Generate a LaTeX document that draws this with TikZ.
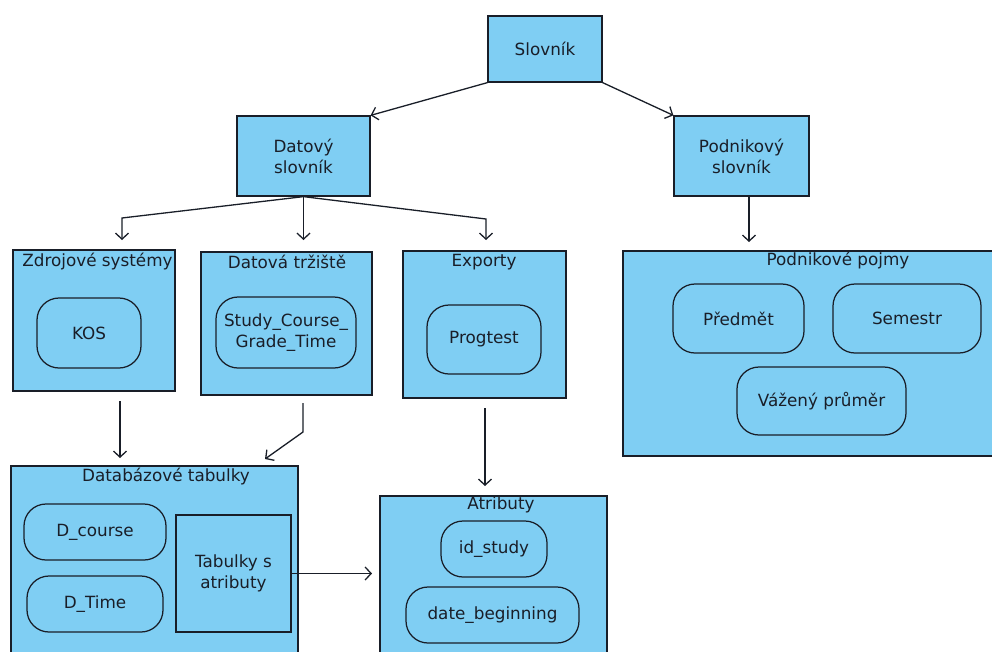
\documentclass[tikz,border=0pt]{standalone}
\usepackage{fontspec}
\setmainfont{DejaVu Sans}
\usetikzlibrary{arrows.meta,calc}
\definecolor{boxfill}{RGB}{127,206,243}
\definecolor{ink}{RGB}{25,30,40}
\begin{document}
\begin{tikzpicture}[x=1pt,y=-1pt,
  font=\fontsize{16.8}{21}\selectfont,
  wh/.style 2 args={minimum width=#1pt, minimum height=#2pt},
  box/.style={draw=ink, fill=boxfill, line width=1.25pt, inner sep=0pt, align=center, text=ink},
  rbox/.style={box, rounded corners=22pt},
  ttl/.style={text=ink, inner sep=0pt, anchor=center},
  arr/.style={draw=ink, line width=1.3pt, -{Straight Barb[length=6pt,width=13pt]}}]
\useasboundingbox (0,0) rectangle (992,651);
\clip (0,0) rectangle (992,651);

% top level
\node[box, wh={114}{66}] (slov) at (545,49) {Slovník};
\node[box, wh={133}{80}] (dat) at (303.5,156) {Datový\\slovník};
\node[box, wh={135}{80}] (pod) at (741.5,156) {Podnikový\\slovník};

% second level containers
\node[box, wh={162}{141}] (zdroj) at (94,320.5) {};
\node[ttl] (zdrojt) at (97.5,262) {Zdrojové systémy};
\node[rbox, wh={104}{70}] (kos) at (89,333) {KOS};

\node[box, wh={171}{143}] (dtr) at (286.5,323.5) {};
\node[ttl] (dtrt) at (287,262) {Datová tržiště};
\node[rbox, wh={140}{71}] (study) at (286,332.5) {Study\_Course\_\\Grade\_Time};

\node[box, wh={163}{147}] (exp) at (484.5,324.5) {};
\node[ttl] (expt) at (484,262) {Exporty};
\node[rbox, wh={114}{69}] (prog) at (484,339.5) {Progtest};

\node[box, wh={430}{205}] (pojmy) at (838,353.5) {};
\node[ttl] (pojmyt) at (838,261) {Podnikové pojmy};
\node[rbox, wh={131}{69}] (pred) at (738.5,318.5) {Předmět};
\node[rbox, wh={148}{69}] (sem) at (907,318.5) {Semestr};
\node[rbox, wh={169}{68}] (vaz) at (821.5,401) {Vážený průměr};

% third level containers
\node[box, wh={287}{234}] (dbt) at (154.5,583) {};
\node[ttl] (dbtt) at (166,477) {Databázové tabulky};
\node[rbox, wh={142}{56}] (dcourse) at (95,532) {D\_course};
\node[rbox, wh={136}{56}] (dtime) at (95,604) {D\_Time};
\node[box, wh={115}{117}] (tabs) at (233.5,573.5) {Tabulky s\\atributy};

\node[box, wh={227}{204}] (atr) at (493.5,598) {};
\node[ttl] (atrt) at (501,505) {Atributy};
\node[rbox, wh={106}{56}] (ids) at (494,549) {id\_study};
\node[rbox, wh={173}{56}] (dateb) at (492.5,615) {date\_beginning};

% free connector ends
\coordinate (b1) at (122,218);
\coordinate (b1e) at (122,240);
\coordinate (b2e) at (303.5,240);
\coordinate (b3) at (486,219);
\coordinate (b3e) at (486,240);
\coordinate (pe) at (749,242);
\coordinate (ks) at (120,401);
\coordinate (ke) at (120,458);
\coordinate (ds) at (303,403);
\coordinate (dm) at (303,432);
\coordinate (de) at (265,459);
\coordinate (es) at (485,408);
\coordinate (ee) at (485,486);
\coordinate (ta) at (372,573.5);

% connectors
\draw[arr] (slov.south west) -- (dat.north east);
\draw[arr] (slov.south east) -- (pod.north west);
\draw[arr] (dat.south) -- (b1) -- (b1e);
\draw[arr] (dat.south) -- (b2e);
\draw[arr] (dat.south) -- (b3) -- (b3e);
\draw[arr] (pod.south -| pe) -- (pe);
\draw[arr] (ks) -- (ke);
\draw[arr] (ds) -- (dm) -- (de);
\draw[arr] (es) -- (ee);
\draw[arr] (tabs.east) -- (ta);
\end{tikzpicture}
\end{document}
